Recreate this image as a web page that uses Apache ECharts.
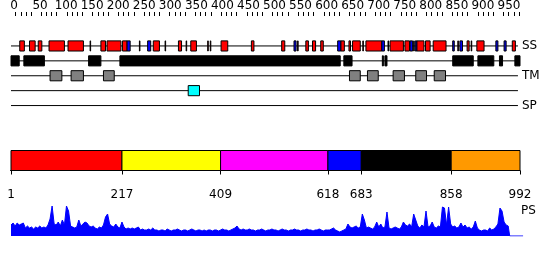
<!DOCTYPE html>
<html><head><meta charset="utf-8">
<script src="https://cdn.jsdelivr.net/npm/echarts@6/dist/echarts.min.js"></script>
<style>html,body{margin:0;padding:0;background:#fff}#c{width:550px;height:260px}</style>
</head><body><div id="c"></div>
<script>
// ---- data ----
const trackNames = ['SS', 'D', 'TM', 'CC', 'SP'];
const trackSpan = [1, 988];
const helices = [[18,27],[37,48],[54,61],[75,105],[112,142],[155,156],[176,185],[188,215],[218,227],
  [251,252],[278,290],[301,302],[327,333],[342,343],[351,362],[384,385],[389,390],[410,423],[469,474],
  [528,534],[559,560],[575,580],[588,594],[604,609],[643,650],[659,662],[666,681],[686,687],[692,723],
  [735,736],[739,765],[768,777],[785,786],[791,805],[808,817],[823,848],[871,872],[889,893],[897,898],
  [908,922],[977,983]];
const strands = [[227,233],[267,273],[552,556],[637,643],[723,728],[778,783],[788,791],[861,864],
  [875,880],[945,949],[961,965]];
const disorder = [[1,17],[26,66],[152,176],[213,642],[649,665],[724,726],[729,733],[861,901],
  [910,941],[952,958],[982,992]];
const transmembrane = [[77,100],[118,142],[181,202],[660,681],[695,716],[745,767],[789,810],[825,847]];
const coiledCoils = [[346,368]];
const signalPeptides = [];
const rulerLabels = [0,50,100,150,200,250,300,350,400,450,500,550,600,650,700,750,800,850,900,950];
const domainBounds = [1, 217, 409, 618, 683, 858, 992];
const psStep = 4;
const psValues = [
  11,13,10,13,11,12,13,8,10,8,9,7,9,8,10,8,9,8,11,17,
  30,12,11,14,10,16,11,30,25,10,9,8,9,16,10,12,14,13,10,9,
  10,8,7,9,8,11,19,22,12,10,9,12,9,8,14,9,7,8,7,8,
  7,8,9,6,7,6,6,7,6,8,6,6,5,6,6,5,7,6,5,6,
  6,7,6,5,6,6,5,6,7,6,5,6,6,5,6,5,6,6,5,6,
  6,5,6,7,6,6,5,6,7,8,10,7,6,7,6,6,7,6,6,5,
  6,6,7,6,5,6,6,7,6,6,5,6,7,6,6,5,6,6,7,6,
  6,5,6,6,7,6,6,5,6,6,7,6,5,6,6,6,7,8,6,5,
  4,5,6,7,12,9,8,9,10,8,9,22,16,8,9,8,7,9,14,9,
  12,8,9,24,8,7,8,9,8,7,9,14,11,10,12,9,22,16,10,8,
  11,9,25,9,10,14,9,8,10,9,29,28,11,29,12,9,10,8,9,13,
  9,11,8,9,7,9,15,8,6,5,6,6,5,8,6,7,9,12,28,25,14,11,10
];
const psTail = [[972, 0], [998, 0]];

// ---- build ----
const FONT = 'DejaVu Sans';
const SCALE_LEFT = 10.5;
const PX_PER_RES = 509.5 / 992;

const trackItems = [];
trackNames.forEach((n, k) => trackItems.push({ v: [trackSpan[0], trackSpan[1], k], kind: 'line' }));
disorder.forEach(([a, b]) => trackItems.push({ v: [a, b, 1], kind: 'box', fill: '#000000' }));
helices.forEach(([a, b]) => trackItems.push({ v: [a, b, 0], kind: 'box', fill: '#ff0000' }));
strands.forEach(([a, b]) => trackItems.push({ v: [a, b, 0], kind: 'box', fill: '#0000ff' }));
transmembrane.forEach(([a, b]) => trackItems.push({ v: [a, b, 2], kind: 'box', fill: '#808080' }));
coiledCoils.forEach(([a, b]) => trackItems.push({ v: [a, b, 3], kind: 'box', fill: '#00ffff' }));
signalPeptides.forEach(([a, b]) => trackItems.push({ v: [a, b, 4], kind: 'box', fill: '#ffff00' }));

const domainColors = ['#ff0000', '#ffff00', '#ff00ff', '#0000ff', '#000000', '#ff9900'];
const domainData = [];
for (let i = 0; i < domainBounds.length - 1; i++) domainData.push([domainBounds[i], domainBounds[i + 1], i]);

const psData = psValues.map((v, i) => [1 + i * psStep, v]).concat(psTail);

const chart = echarts.init(document.getElementById('c'), null, { renderer: 'canvas' });
chart.setOption({
  animation: false,
  textStyle: { fontFamily: FONT },
  title: { text: 'PS', left: 521, top: 205, padding: 0,
    textStyle: { fontFamily: FONT, fontSize: 12, fontWeight: 'normal', color: '#000' } },
  grid: [
    { left: SCALE_LEFT, width: 509.5, top: 38, height: 75 },
    { left: SCALE_LEFT, width: 509.5, top: 150.5, height: 20 },
    { left: SCALE_LEFT, width: 998 * PX_PER_RES, top: 206, height: 30 }
  ],
  xAxis: [
    { gridIndex: 0, type: 'value', min: 0, max: 992, interval: 50, position: 'top', offset: 22.5,
      axisLine: { lineStyle: { color: '#000', width: 1 } },
      axisTick: { length: 4, lineStyle: { color: '#000' } },
      minorTick: { show: true, splitNumber: 5, length: 4, lineStyle: { color: '#000' } },
      splitLine: { show: false },
      axisLabel: { show: false } },
    { gridIndex: 1, type: 'value', min: 0, max: 992, position: 'bottom', offset: 10,
      axisLine: { lineStyle: { color: '#000', width: 1 } },
      axisTick: { length: 4, lineStyle: { color: '#000' }, customValues: domainBounds },
      splitLine: { show: false },
      axisLabel: { fontFamily: FONT, fontSize: 12, color: '#000', margin: 8, customValues: domainBounds } },
    { gridIndex: 2, type: 'value', min: 0, max: 998, show: false },
    // ruler label row (labels laid out on their own slightly wider spacing, as in the source)
    { gridIndex: 0, type: 'value', min: -6.7, max: 971.2, position: 'top', offset: 22.5,
      axisLine: { show: false }, axisTick: { show: false }, splitLine: { show: false },
      axisLabel: { fontFamily: FONT, fontSize: 12, color: '#000', margin: 4, customValues: rulerLabels } }
  ],
  yAxis: [
    { gridIndex: 0, type: 'category', data: trackNames, inverse: true, position: 'right',
      axisLine: { show: false }, axisTick: { show: false }, splitLine: { show: false },
      axisLabel: { fontFamily: FONT, fontSize: 12, color: '#000', margin: 2 } },
    { gridIndex: 1, type: 'value', min: 0, max: 1, show: false },
    { gridIndex: 2, type: 'value', min: 0, max: 30, show: false }
  ],
  series: [
    { type: 'custom', xAxisIndex: 0, yAxisIndex: 0, clip: false,
      data: trackItems.map(t => t.v), encode: { x: [0, 1], y: 2 },
      renderItem: (params, api) => {
        const it = trackItems[params.dataIndex];
        const p1 = api.coord([api.value(0), api.value(2)]);
        const p2 = api.coord([api.value(1), api.value(2)]);
        if (it.kind === 'line') {
          return { type: 'line', shape: { x1: p1[0], y1: p1[1], x2: p2[0], y2: p2[1] },
            style: { stroke: '#000', lineWidth: 1 } };
        }
        const h = api.size([0, 1])[1] * 0.68;
        return { type: 'rect',
          shape: { x: p1[0], y: p1[1] - h / 2, width: Math.max(p2[0] - p1[0], 0.5), height: h },
          style: { fill: it.fill, stroke: '#000', lineWidth: 1 } };
      } },
    { type: 'custom', xAxisIndex: 1, yAxisIndex: 1, data: domainData, encode: { x: [0, 1] },
      renderItem: (params, api) => {
        const a = api.coord([api.value(0), 1]);
        const b = api.coord([api.value(1), 0]);
        return { type: 'rect', shape: { x: a[0], y: a[1], width: b[0] - a[0], height: b[1] - a[1] },
          style: { fill: domainColors[api.value(2)], stroke: '#000', lineWidth: 1 } };
      } },
    { type: 'line', xAxisIndex: 2, yAxisIndex: 2, data: psData, showSymbol: false, symbol: 'none',
      lineStyle: { color: '#0000ff', width: 1 }, areaStyle: { color: '#0000ff', opacity: 1 } }
  ]
});
</script>
</body></html>
